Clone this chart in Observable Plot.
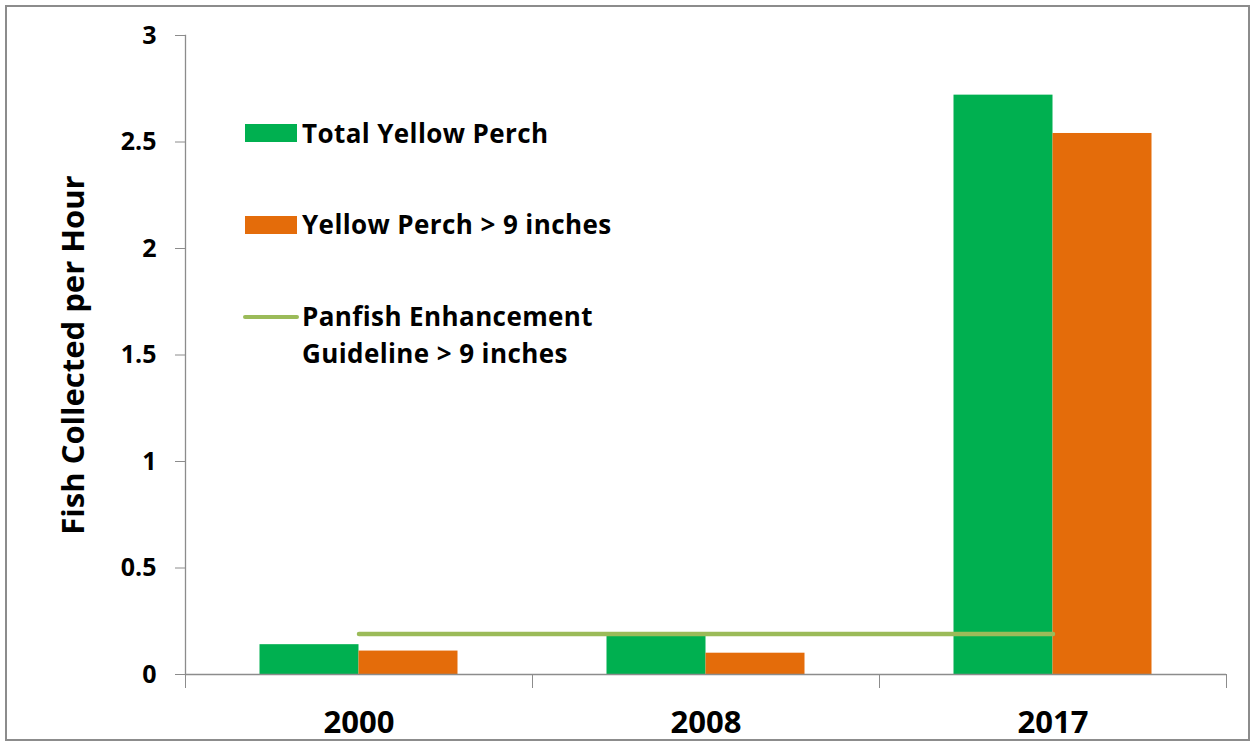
<!DOCTYPE html>
<html>
<head>
<meta charset="utf-8">
<script src="https://cdn.jsdelivr.net/npm/d3@7"></script>
<script src="https://cdn.jsdelivr.net/npm/@observablehq/plot@0.6"></script>
<style>
  html, body { margin: 0; padding: 0; background: #fff; }
  #wrap { position: relative; width: 1255px; height: 742px; font-family: "Open Sans", sans-serif; }
  #border { position: absolute; left: 5px; top: 5px; width: 1241px; height: 732px; border: 2px solid #8c8c8c; pointer-events: none; }
  .legend { position: absolute; font-family: "Open Sans", sans-serif; font-weight: bold; font-size: 26px; letter-spacing: 0.4px; color: #000; line-height: 37px; white-space: nowrap; }
  .sw { position: absolute; }
  svg text { font-family: "Open Sans", sans-serif; font-weight: bold; fill: #000; }
  g[aria-label="y-axis label"] text { font-size: 31px; }
</style>
</head>
<body>
<div id="wrap">
  <div id="chart"></div>
  <div class="sw" style="left:245px; top:124px; width:52px; height:18px; background:#00B050;"></div>
  <div class="legend" style="left:302px; top:115px;">Total Yellow Perch</div>
  <div class="sw" style="left:245px; top:216px; width:52px; height:18px; background:#E46C0A;"></div>
  <div class="legend" style="left:302px; top:206px;">Yellow Perch &gt; 9 inches</div>
  <div class="sw" style="left:243px; top:315px; width:56px; height:4px; border-radius:2px; background:#9BBB59;"></div>
  <div class="legend" style="left:302px; top:298px;">Panfish Enhancement<br>Guideline &gt; 9 inches</div>
  <div id="border"></div>
</div>
<script>
const years = ["2000", "2008", "2017"];
const totalPerch = [0.14, 0.18, 2.72];
const perchOver9 = [0.11, 0.10, 2.54];
const guideline = [0.19, 0.19, 0.19];
const yTicks = [0, 0.5, 1, 1.5, 2, 2.5, 3];

const totalData = years.map((y, i) => ({year: y, value: totalPerch[i]}));
const overData = years.map((y, i) => ({year: y, value: perchOver9[i]}));
const lineData = years.map((y, i) => ({year: y, value: guideline[i]}));

const W = 1255, H = 742;
const mL = 185, mR = 29, mT = 35, mB = 68;
const band = (W - mL - mR) / years.length;
const barW = 99;
const half = band / 2;
const gray = "#8c8c8c";

const plot = Plot.plot({
  width: W,
  height: H,
  marginLeft: mL,
  marginRight: mR,
  marginTop: mT,
  marginBottom: mB,
  x: {type: "band", domain: years, padding: 0},
  y: {domain: [0, 3]},
  marks: [
    Plot.barY(totalData, {x: "year", y: "value", fill: "#00B050", insetLeft: half - barW, insetRight: half}),
    Plot.barY(overData, {x: "year", y: "value", fill: "#E46C0A", insetLeft: half, insetRight: half - barW}),
    Plot.ruleY([0], {stroke: gray, strokeWidth: 1.3}),
    Plot.frame({anchor: "left", stroke: gray, strokeWidth: 1.3}),
    Plot.lineY(lineData, {x: "year", y: "value", stroke: "#9BBB59", strokeWidth: 4.5, strokeLinecap: "round"}),
    Plot.axisY({ticks: yTicks, tickFormat: d3.format(""), tickSize: 10, tickPadding: 19, fontSize: 25, stroke: gray,
      label: "Fish Collected per Hour", labelAnchor: "center", labelArrow: "none", labelOffset: 124}),
    Plot.axisX({tickSize: 0, tickPadding: 36, fontSize: 31, label: null}),
    Plot.axisX({tickSize: 14, tickFormat: () => "", dx: -half, stroke: gray, label: null}),
    Plot.axisX({ticks: [years[years.length - 1]], tickSize: 14, tickFormat: () => "", dx: half, stroke: gray, label: null})
  ]
});
document.getElementById("chart").appendChild(plot);
</script>
</body>
</html>
